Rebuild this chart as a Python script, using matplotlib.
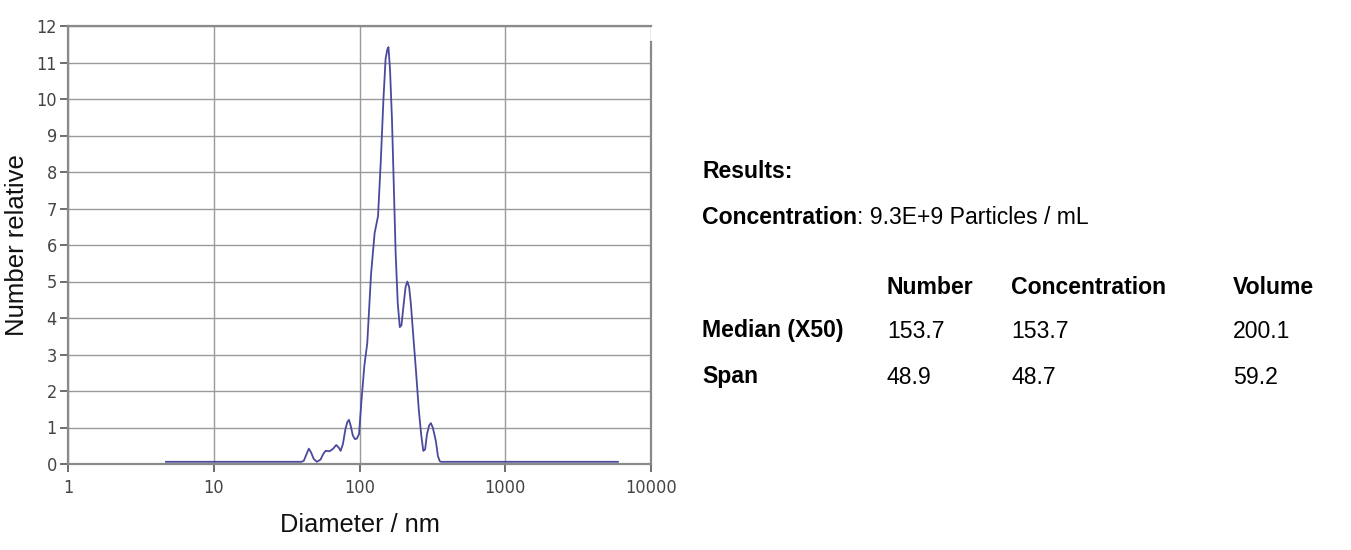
import matplotlib
matplotlib.use("Agg")
import matplotlib.pyplot as plt
from matplotlib.ticker import FixedLocator, NullLocator

# ---- data ----
diameter_nm = [4.7, 40, 41.5, 43, 44.9, 46.5, 48.5, 51, 54, 56.5, 58.5, 62.4, 66, 69.2,
               72, 74.2, 77, 80, 82.5, 84.7, 87, 90, 93.2, 96, 99.3, 103, 108, 113,
               120, 127, 134, 140, 146, 151, 155, 158, 162, 167, 172, 177, 183, 189,
               194, 200, 207, 213, 219, 225, 235, 244, 255, 265, 274, 282, 290, 300,
               309, 318, 327, 335, 345, 355, 362, 400, 5930]
number_rel = [0.06, 0.06, 0.09, 0.24, 0.42, 0.32, 0.14, 0.06, 0.12, 0.28, 0.36, 0.35, 0.42, 0.52,
              0.45, 0.36, 0.55, 0.95, 1.15, 1.21, 1.05, 0.78, 0.68, 0.7, 0.82, 1.7, 2.7, 3.3,
              5.2, 6.33, 6.79, 8.3, 10.0, 11.1, 11.35, 11.42, 10.8, 9.45, 7.6, 5.78, 4.4, 3.75,
              3.8, 4.3, 4.85, 5.0, 4.85, 4.4, 3.4, 2.56, 1.5, 0.8, 0.36, 0.4, 0.8, 1.05,
              1.12, 1.0, 0.8, 0.6, 0.22, 0.08, 0.06, 0.06, 0.06]

x_ticks = [1, 10, 100, 1000, 10000]
x_tick_labels = ["1", "10", "100", "1000", "10000"]
y_ticks = list(range(0, 13))

results_title = "Results:"
conc_label = "Concentration"
conc_value = ": 9.3E+9 Particles / mL"
table_cols = ["Number", "Concentration", "Volume"]
table_rows = ["Median (X50)", "Span"]
table_vals = [["153.7", "153.7", "200.1"],
              ["48.9", "48.7", "59.2"]]

# ---- figure ----
W, H = 1351, 550
fig = plt.figure(figsize=(W / 100, H / 100), dpi=100)
ax = fig.add_axes([68 / W, 1 - 464 / H, (651 - 68) / W, (464 - 26) / H])

line_col = "#4a4a9c"
grid_col = "#9a9a9a"
spine_col = "#8a8a8a"
tick_txt = "#444444"

ax.plot(diameter_nm, number_rel, color=line_col, lw=1.3, solid_joinstyle="round", zorder=3)

ax.set_xscale("log")
ax.set_xlim(1, 10000)
ax.set_ylim(0, 12)
ax.xaxis.set_major_locator(FixedLocator(x_ticks))
ax.xaxis.set_minor_locator(NullLocator())
ax.set_xticklabels(x_tick_labels)
ax.set_yticks(y_ticks)

ax.grid(True, which="major", color=grid_col, lw=1.0)
ax.set_axisbelow(True)

for s in ["left", "bottom", "top", "right"]:
    ax.spines[s].set_color(spine_col)
    ax.spines[s].set_linewidth(1.6)
ax.spines["right"].set_bounds(0, 11.55)

for lab in ax.get_xticklabels() + ax.get_yticklabels():
    lab.set_fontfamily("DejaVu Sans")
    lab.set_fontstretch("condensed")
    lab.set_fontsize(13)
    lab.set_color(tick_txt)
ax.tick_params(axis="both", direction="out", length=6, width=1.2, color="#555555")
ax.tick_params(axis="x", pad=5)
ax.tick_params(axis="y", pad=2)

ax.set_xlabel("Diameter / nm", labelpad=11, family=["Liberation Sans", "DejaVu Sans"],
              size=18.3, color="#111111")
ax.set_ylabel("Number relative", labelpad=5, family=["Liberation Sans", "DejaVu Sans"],
              size=18.5, color="#111111")

# ---- results text ----
tf = ["Liberation Sans", "DejaVu Sans"]
fs = 16.6
def px(x, y):
    return x / W, 1 - y / H

fig.text(*px(702, 172), results_title, family=tf, size=fs, weight="bold", va="center")
t = fig.text(*px(702, 217), conc_label, family=tf, size=fs, weight="bold", va="center")
fig.canvas.draw()
bb = t.get_window_extent()
fig.text(bb.x1 / W, 1 - 217 / H, conc_value, family=tf, size=fs, va="center")

col_x = [887, 1011, 1233]
row_y = [331, 377]
for cx, name in zip(col_x, table_cols):
    fig.text(*px(cx, 288), name, family=tf, size=fs, weight="bold", va="center")
for ry, rname, vals in zip(row_y, table_rows, table_vals):
    fig.text(*px(702, ry), rname, family=tf, size=fs, weight="bold", va="center")
    for cx, v in zip(col_x, vals):
        fig.text(*px(cx, ry), v, family=tf, size=fs, va="center")

fig.savefig("out.png", dpi=100)
